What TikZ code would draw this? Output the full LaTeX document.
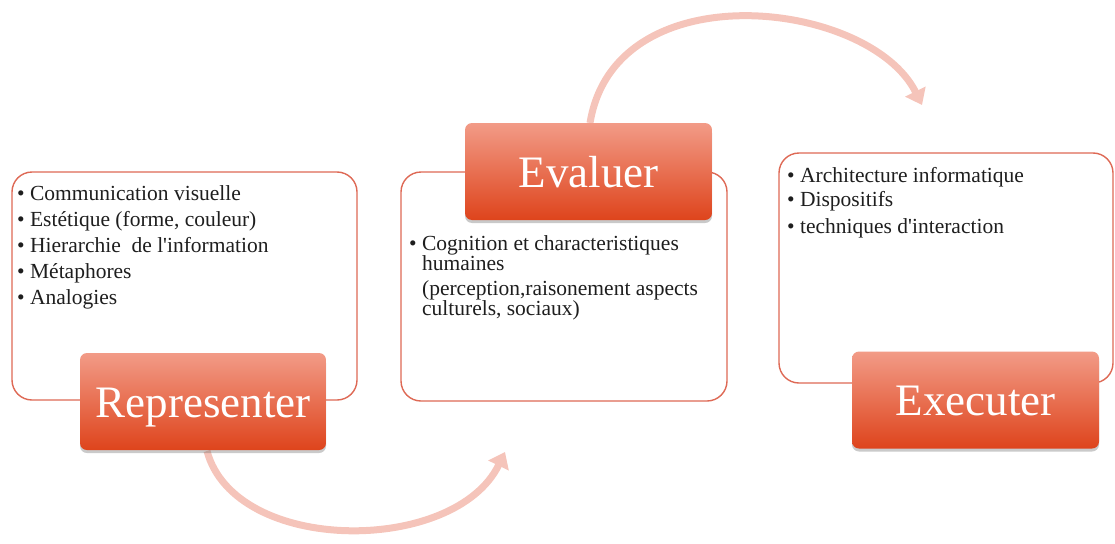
\documentclass[tikz,border=0pt]{standalone}
\usepackage{fontspec}
\setmainfont{Liberation Serif}
\usepackage{xcolor}
\usepackage{tikz}
\usetikzlibrary{arrows.meta, positioning, shadows}
\definecolor{myframe}{RGB}{222, 105, 85}
\definecolor{mytop}{RGB}{242, 155, 135}
\definecolor{mybottom}{RGB}{222, 68, 28}
\definecolor{mypink}{RGB}{245, 196, 186}
\definecolor{mytext}{RGB}{30, 30, 30}

\begin{document}
\begin{tikzpicture}[x=1pt, y=-1pt,
    panel/.style={rectangle, rounded corners=20pt, draw=myframe, line width=1.4pt, fill=white},
    titlebox/.style={rectangle, rounded corners=7pt, top color=mytop, bottom color=mybottom, draw=none,
        text=white, font=\fontsize{45}{45}\selectfont, minimum height=97pt,
        text height=35pt, text depth=4pt,
        drop shadow={shadow xshift=0pt, shadow yshift=-3pt, opacity=0.35, fill=black!60}},
    items/.style={anchor=north west, inner sep=0pt, align=left, text=mytext},
    loop/.style={mypink, line width=7pt, -{Triangle[width=22pt, length=15pt]}}]
    \useasboundingbox (0,0) rectangle (1115,543);

    % panneaux
    \node[panel, minimum width=345pt, minimum height=228pt] (repP) at (184.5, 286) {};
    \node[panel, minimum width=326pt, minimum height=229pt] (evaP) at (564, 286.5) {};
    \node[panel, minimum width=334pt, minimum height=230pt] (exeP) at (946, 268) {};

    % listes
    \node[items, font=\fontsize{21.5}{26.2}\selectfont] (repL) at (17, 185)
        {\textbullet\ Communication visuelle\\
         \textbullet\ Estétique (forme, couleur)\\
         \textbullet\ Hierarchie\ \ de l\textquotesingle information\\
         \textbullet\ Métaphores\\
         \textbullet\ Analogies};
    \node[items, font=\fontsize{21.5}{20}\selectfont] (evaL) at (409, 235)
        {\textbullet\ Cognition et characteristiques\\
         \hphantom{\textbullet\ }humaines\\[5pt]
         \hphantom{\textbullet\ }(perception,raisonement aspects\\
         \hphantom{\textbullet\ }culturels, sociaux)};
    \node[items, font=\fontsize{21.5}{24}\selectfont] (exeL) at (787, 167)
        {\textbullet\ Architecture informatique\\
         \textbullet\ Dispositifs\\[3pt]
         \textbullet\ techniques d\textquotesingle interaction};

    % fleches
    \coordinate (tipA) at (505, 452);
    \coordinate (tipB) at (922, 105);
    \draw[loop] (207, 451) .. controls (235, 555) and (455, 555) .. (tipA);
    \draw[loop] (590, 123) .. controls (615, -30) and (870, 0) .. (tipB);

    % titres
    \node[titlebox, minimum width=246pt] (rep) at (203, 401.5) {Representer};
    \node[titlebox, minimum width=247pt] (eva) at (588.5, 171.5) {Evaluer};
    \node[titlebox, minimum width=247pt] (exe) at (975.5, 400) {Executer};
\end{tikzpicture}
\end{document}
